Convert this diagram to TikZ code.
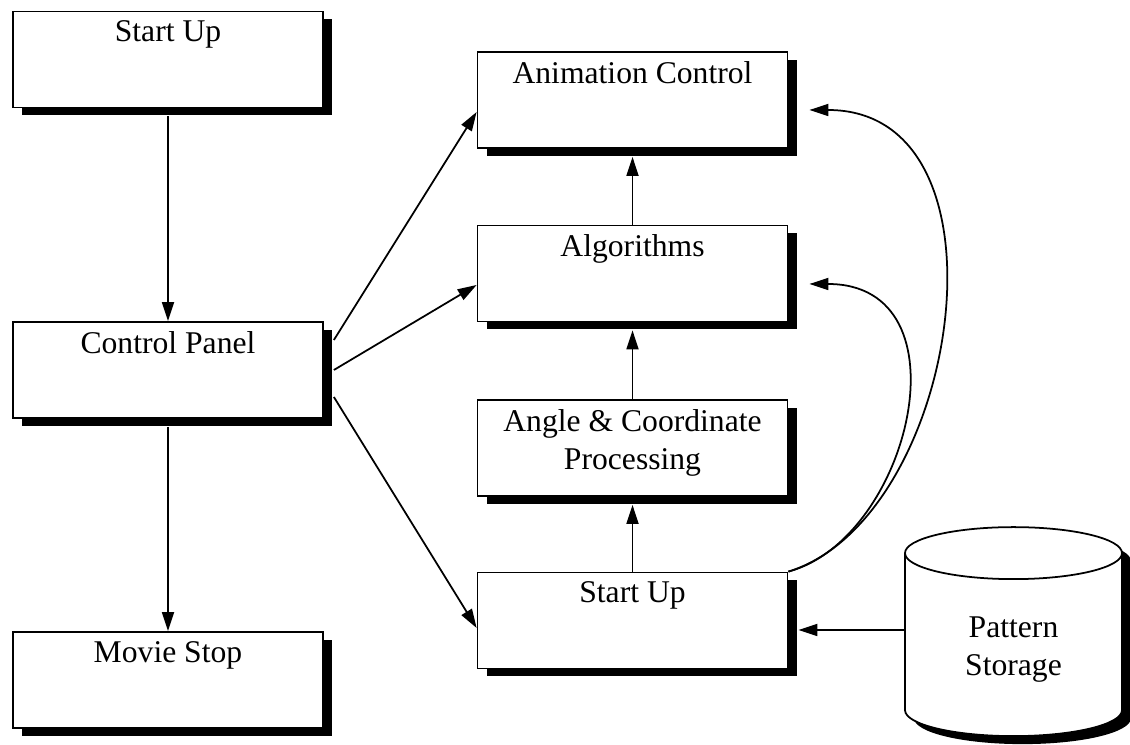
\documentclass[tikz,border=0pt]{standalone}
\usepackage{fontspec}
\setmainfont{Liberation Serif}
\usetikzlibrary{arrows.meta,shapes.geometric,shadows,calc}
\tikzset{
  block text/.style={
    anchor=north,
    yshift=-0.2cm,
    inner sep=0pt,
    align=center
  },
  block/.style={
    draw,
    fill=white,
    line width=1pt,
    minimum width=6.2cm,
    minimum height=1.92cm,
    drop shadow={shadow xshift=0.18cm, shadow yshift=-0.16cm, fill=black, opacity=1},
    label={[block text]north:{#1}}
  },
  storage/.style={
    cylinder,
    shape border rotate=90,
    aspect=0.48,
    draw,
    fill=white,
    line width=1pt,
    minimum width=4.34cm,
    minimum height=4.18cm,
    align=center,
    drop shadow={shadow xshift=0.18cm, shadow yshift=-0.16cm, fill=black, opacity=1}
  },
  arrow/.style={
    -{Triangle[length=3.8mm,width=2.4mm]},
    line width=1pt
  }
}
\begin{document}
\begin{tikzpicture}[font=\fontsize{18}{21.6}\selectfont]
  \useasboundingbox (0,0) rectangle (22.6,14.9);

  % left column
  \node[block=Start Up] (start) at (3.36,13.71) {};
  \node[block=Control Panel] (panel) at (3.36,7.5) {};
  \node[block=Movie Stop] (stop) at (3.36,1.3) {};

  % middle column
  \node[block=Animation Control] (anim) at (12.65,12.9) {};
  \node[block=Algorithms] (algo) at (12.65,9.43) {};
  \node[block={Angle \& Coordinate\\Processing}] (angle) at (12.65,5.94) {};
  \node[block=Start Up] (init) at (12.65,2.49) {};

  % storage
  \node[storage, anchor=south] (pattern) at (20.27,0.16) {Pattern\\Storage};

  % straight flow
  \draw[arrow] ([yshift=-0.16cm]start.south) -- (panel.north);
  \draw[arrow] ([yshift=-0.16cm]panel.south) -- (stop.north);
  \draw[arrow] (init.north) -- ([yshift=-0.16cm]angle.south);
  \draw[arrow] (angle.north) -- ([yshift=-0.16cm]algo.south);
  \draw[arrow] (algo.north) -- ([yshift=-0.16cm]anim.south);

  % fan out of the control panel
  \draw[arrow] ([shift={(0.2,0.6)}]panel.east) -- ([yshift=-0.24cm]anim.west);
  \draw[arrow] ([xshift=0.2cm]panel.east) -- ([yshift=-0.23cm]algo.west);
  \draw[arrow] ([shift={(0.2,-0.54)}]panel.east) -- ([yshift=-0.15cm]init.west);

  % feedback curves
  \draw[arrow] (init.north east) .. controls +(3.44,1.06) and +(4.22,0) .. ([shift={(0.42,-0.2)}]anim.east);
  \draw[arrow] (init.north east) .. controls +(2.44,0.66) and +(3.22,0) .. ([shift={(0.42,-0.21)}]algo.east);

  % pattern input
  \coordinate (feed) at ([shift={(0.2,-0.19)}]init.east);
  \draw[arrow] (pattern.west |- feed) -- (feed);
\end{tikzpicture}
\end{document}
